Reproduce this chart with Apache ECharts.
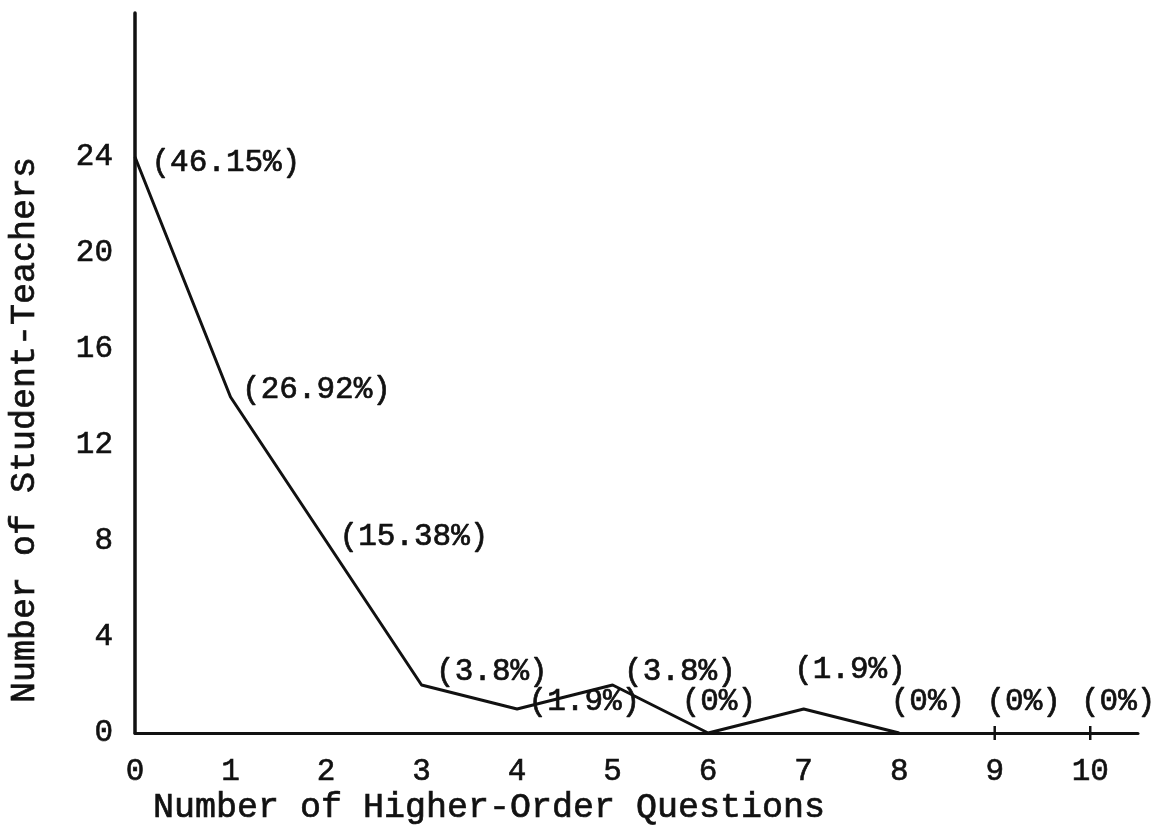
<!DOCTYPE html>
<html>
<head>
<meta charset="utf-8">
<script src="https://cdn.jsdelivr.net/npm/echarts@6/dist/echarts.min.js"></script>
<style>html,body{margin:0;padding:0;background:#fff}#c{width:1160px;height:833px}</style>
</head>
<body>
<div id="c"></div>
<script>
// Data
var questions = [0, 1, 2, 3, 4, 5, 6, 7, 8, 9, 10];
var teachers  = [24, 14, 8, 2, 1, 2, 0, 1, 0, 0, 0];
var percents  = ['(46.15%)', '(26.92%)', '(15.38%)', '(3.8%)', '(1.9%)', '(3.8%)', '(0%)', '(1.9%)', '(0%)', '(0%)', '(0%)'];
var yTicks = [0, 4, 8, 12, 16, 20, 24];
var xTitle = 'Number of Higher-Order Questions';
var yTitle = 'Number of Student-Teachers';

// label offsets (style only)
var offs = [[17,6],[12,-7],[14,-4],[15,-13],[12,-7],[12,-13],[-26,-31],[-9,-39],[-8,-31],[-7,-24],[-8,-24]];
var FONT = '"Liberation Mono", "Courier New", monospace';
var INK = '#111';

function mkItem(i){
  return {
    value: [questions[i], teachers[i]],
    label: {
      show: true, formatter: percents[i], position: offs[i],
      align: 'left', verticalAlign: 'middle',
      fontFamily: FONT, fontSize: 31, color: INK,
      textBorderColor: INK, textBorderWidth: 0.7
    }
  };
}
var lineData = [], extraData = [];
for (var i = 0; i < questions.length; i++) {
  if (i <= 8) lineData.push(mkItem(i)); else extraData.push(mkItem(i));
}

var chart = echarts.init(document.getElementById('c'), null, {renderer: 'canvas'});
chart.setOption({
  animation: false,
  backgroundColor: '#fff',
  grid: {left: 135, top: 13, right: 22, bottom: 100, containLabel: false},
  xAxis: {
    type: 'value', min: 0, max: 10.5, interval: 1,
    axisLine: {show: true, lineStyle: {color: INK, width: 3}},
    axisTick: {show: false},
    splitLine: {show: false},
    axisLabel: {
      margin: 23, fontFamily: FONT, fontSize: 31, color: INK,
      textBorderColor: INK, textBorderWidth: 0.6,
      formatter: function(v){ return (v % 1 === 0 && v <= 10) ? String(v) : ''; },
      showMaxLabel: false
    }
  },
  yAxis: {
    type: 'value', min: 0, max: 30, interval: 4,
    axisLine: {show: true, lineStyle: {color: INK, width: 3.5}},
    axisTick: {show: false},
    splitLine: {show: false},
    axisLabel: {
      margin: 22, fontFamily: FONT, fontSize: 31, color: INK,
      textBorderColor: INK, textBorderWidth: 0.6,
      formatter: function(v){ return yTicks.indexOf(v) >= 0 ? String(v) : ''; },
      showMaxLabel: false
    }
  },
  graphic: [
    {type: 'text', x: 489, y: 808, style: {text: xTitle, font: '35px ' + FONT, fill: INK, stroke: INK, lineWidth: 0.7, align: 'center', verticalAlign: 'middle'}},
    {type: 'text', x: 25, y: 430, rotation: Math.PI/2, style: {text: yTitle, font: '35px ' + FONT, fill: INK, stroke: INK, lineWidth: 0.7, align: 'center', verticalAlign: 'middle'}}
  ],
  series: [
    {
      type: 'line', data: lineData,
      symbol: 'circle', symbolSize: 1, showSymbol: true,
      itemStyle: {color: INK, opacity: 1},
      lineStyle: {color: INK, width: 3},
      z: 3
    },
    {
      type: 'scatter', data: extraData,
      symbol: 'rect', symbolSize: [2.5, 14],
      itemStyle: {color: INK, opacity: 1},
      z: 3
    }
  ]
});
</script>
</body>
</html>
